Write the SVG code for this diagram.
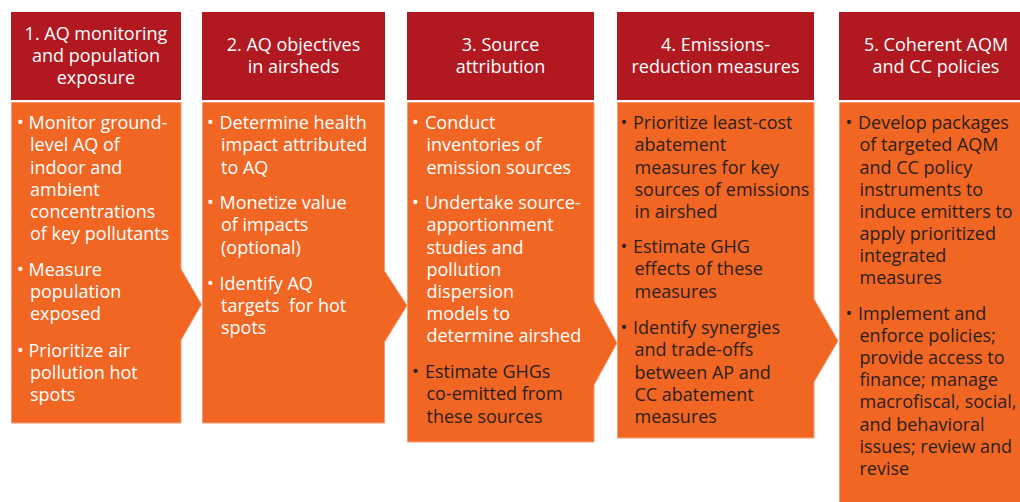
<svg xmlns="http://www.w3.org/2000/svg" width="1020" height="502" viewBox="0 0 1020 502">
  <style>
    .head { fill: #b1181f; }
    .body { fill: #f26624; stroke: #f69b70; stroke-width: 1; }
    text { font-family: "Open Sans", "Noto Sans", "DejaVu Sans", sans-serif; font-size: 18px; }
    .ht { fill: #ffffff; text-anchor: middle; }
    .lt { fill: #ffffff; }
    .dk { fill: #2a1f1c; }
  </style>
  <rect width="1020" height="502" fill="#ffffff"/>

  <!-- Stage 1 -->
  <g id="stage1">
    <rect class="head" x="11" y="12" width="170" height="88"/>
    <text class="ht"><tspan x="96" y="40">1. AQ monitoring</tspan><tspan x="96" y="62">and population</tspan><tspan x="96" y="84">exposure</tspan></text>
    <path class="body" d="M11.5,102.5 H181 V269 L201.5,304.5 L181,340 V423 H11.5 Z"/>
    <text class="lt">
      <tspan x="17" y="129.3">•</tspan><tspan x="28.5" y="129.3">Monitor ground-</tspan>
      <tspan x="30" y="151.4">level AQ of</tspan>
      <tspan x="30" y="173.5">indoor and</tspan>
      <tspan x="30" y="195.6">ambient</tspan>
      <tspan x="30" y="217.7">concentrations</tspan>
      <tspan x="30" y="239.8">of key pollutants</tspan>
      <tspan x="17" y="275.5">•</tspan><tspan x="28.5" y="275.5">Measure</tspan>
      <tspan x="30" y="297.6">population</tspan>
      <tspan x="30" y="319.7">exposed</tspan>
      <tspan x="17" y="356.5">•</tspan><tspan x="28.5" y="356.5">Prioritize air</tspan>
      <tspan x="30" y="378.6">pollution hot</tspan>
      <tspan x="30" y="400.7">spots</tspan>
    </text>
  </g>

  <!-- Stage 2 -->
  <g id="stage2">
    <rect class="head" x="202" y="12" width="183" height="88"/>
    <text class="ht"><tspan x="293.5" y="51.2">2. AQ objectives</tspan><tspan x="293.5" y="73.2">in airsheds</tspan></text>
    <path class="body" d="M202.5,102.5 H384.5 V271 L407,305.5 L384.5,342 V423 H202.5 Z"/>
    <text class="lt">
      <tspan x="207" y="129.3">•</tspan><tspan x="219.5" y="129.3">Determine health</tspan>
      <tspan x="221" y="151.4">impact attributed</tspan>
      <tspan x="221" y="173.5">to AQ</tspan>
      <tspan x="207" y="209.3">•</tspan><tspan x="219.5" y="209.3">Monetize value</tspan>
      <tspan x="221" y="231.4">of impacts</tspan>
      <tspan x="221" y="253.5">(optional)</tspan>
      <tspan x="207" y="290">•</tspan><tspan x="219.5" y="290">Identify AQ</tspan>
      <tspan x="221" y="312.1" xml:space="preserve">targets  for hot</tspan>
      <tspan x="221" y="334.2">spots</tspan>
    </text>
  </g>

  <!-- Stage 3 -->
  <g id="stage3">
    <rect class="head" x="407" y="12" width="187" height="88"/>
    <text class="ht"><tspan x="500.5" y="51.2">3. Source</tspan><tspan x="500.5" y="73.2">attribution</tspan></text>
    <path class="body" d="M407.5,102.5 H594 V301 L617,343 L594,385 V442 H407.5 Z"/>
    <text class="lt">
      <tspan x="412" y="129.3">•</tspan><tspan x="425" y="129.3">Conduct</tspan>
      <tspan x="426.5" y="151.4">inventories of</tspan>
      <tspan x="426.5" y="173.5">emission sources</tspan>
      <tspan x="412" y="209.3">•</tspan><tspan x="425" y="209.3">Undertake source-</tspan>
      <tspan x="426.5" y="231.4">apportionment</tspan>
      <tspan x="426.5" y="253.5">studies and</tspan>
      <tspan x="426.5" y="275.6">pollution</tspan>
      <tspan x="426.5" y="297.7">dispersion</tspan>
      <tspan x="426.5" y="319.8">models to</tspan>
      <tspan x="426.5" y="341.9">determine airshed</tspan>
    </text>
    <text class="dk">
      <tspan x="412" y="378.3">•</tspan><tspan x="425" y="378.3">Estimate GHGs</tspan>
      <tspan x="426.5" y="400.4">co-emitted from</tspan>
      <tspan x="426.5" y="422.5">these sources</tspan>
    </text>
  </g>

  <!-- Stage 4 -->
  <g id="stage4">
    <rect class="head" x="617" y="12" width="197" height="88"/>
    <text class="ht"><tspan x="715.5" y="51.2">4. Emissions-</tspan><tspan x="715.5" y="73.2">reduction measures</tspan></text>
    <path class="body" d="M617.5,102.5 H814 V299 L838,341 L814,382 V438 H617.5 Z"/>
    <text class="dk">
      <tspan x="620.5" y="129.3">•</tspan><tspan x="633" y="129.3">Prioritize least-cost</tspan>
      <tspan x="634.5" y="151.4">abatement</tspan>
      <tspan x="634.5" y="173.5">measures for key</tspan>
      <tspan x="634.5" y="195.6">sources of emissions</tspan>
      <tspan x="634.5" y="217.7">in airshed</tspan>
      <tspan x="620.5" y="253.3">•</tspan><tspan x="633" y="253.3">Estimate GHG</tspan>
      <tspan x="634.5" y="275.4">effects of these</tspan>
      <tspan x="634.5" y="297.5">measures</tspan>
      <tspan x="620.5" y="334.3">•</tspan><tspan x="633" y="334.3">Identify synergies</tspan>
      <tspan x="634.5" y="356.4">and trade-offs</tspan>
      <tspan x="634.5" y="378.5">between AP and</tspan>
      <tspan x="634.5" y="400.6">CC abatement</tspan>
      <tspan x="634.5" y="422.7">measures</tspan>
    </text>
  </g>

  <!-- Stage 5 -->
  <g id="stage5">
    <rect class="head" x="839" y="12" width="194" height="88"/>
    <text class="ht"><tspan x="936" y="51.2">5. Coherent AQM</tspan><tspan x="936" y="73.2">and CC policies</tspan></text>
    <path class="body" d="M839.5,102.5 H1030 V510 H839.5 Z"/>
    <text class="dk">
      <tspan x="845.5" y="129.3">•</tspan><tspan x="858" y="129.3">Develop packages</tspan>
      <tspan x="859.5" y="151.4">of targeted AQM</tspan>
      <tspan x="859.5" y="173.5">and CC policy</tspan>
      <tspan x="859.5" y="195.6">instruments to</tspan>
      <tspan x="859.5" y="217.7">induce emitters to</tspan>
      <tspan x="859.5" y="239.8">apply prioritized</tspan>
      <tspan x="859.5" y="261.9">integrated</tspan>
      <tspan x="859.5" y="284">measures</tspan>
      <tspan x="845.5" y="320">•</tspan><tspan x="858" y="320">Implement and</tspan>
      <tspan x="859.5" y="342.1">enforce policies;</tspan>
      <tspan x="859.5" y="364.2">provide access to</tspan>
      <tspan x="859.5" y="386.3">finance; manage</tspan>
      <tspan x="859.5" y="408.4">macrofiscal, social,</tspan>
      <tspan x="859.5" y="430.5">and behavioral</tspan>
      <tspan x="859.5" y="452.6">issues; review and</tspan>
      <tspan x="859.5" y="474.7">revise</tspan>
    </text>
  </g>

  <!-- the chevron points on each body serve as the connectors between stages -->
  <g id="connectors"></g>
</svg>
